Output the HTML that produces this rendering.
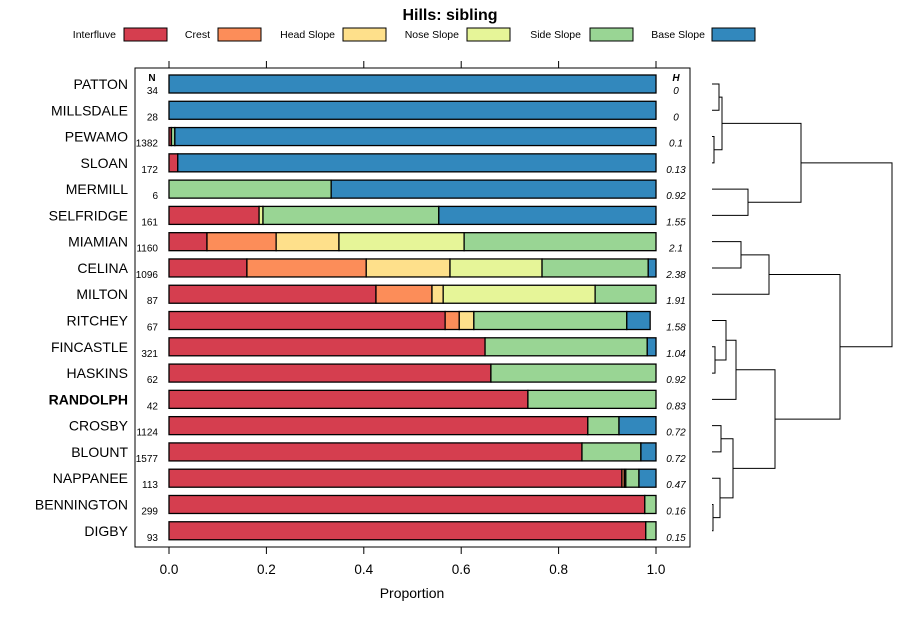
<!DOCTYPE html>
<html><head><meta charset="utf-8"><style>
body{margin:0;background:#fff}
svg{display:block;font-family:"Liberation Sans",sans-serif}
</style></head><body>
<svg id="chart" width="900" height="620" xmlns="http://www.w3.org/2000/svg">
<text x="450" y="20" text-anchor="middle" font-size="16" font-weight="bold">Hills: sibling</text>
<g id="legend"></g>
<rect x="135" y="68" width="555" height="479" fill="none" stroke="#000" stroke-width="1"/>
<g id="axes"></g>
<g id="bars"></g>
<g id="labels"></g>
<text x="152" y="81" text-anchor="middle" font-size="10" font-weight="bold">N</text>
<text x="676" y="81" text-anchor="middle" font-size="10" font-weight="bold" font-style="italic">H</text>
<text x="412" y="598" text-anchor="middle" font-size="14">Proportion</text>
<g id="dendro" stroke="#000" stroke-width="1" fill="none"></g>
</svg>
<script>
const classes = ["Interfluve","Crest","Head Slope","Nose Slope","Side Slope","Base Slope"];
const colors = ["#d53e4f","#fc8d59","#fee08b","#e6f598","#99d594","#3288bd"];
const series = ["PATTON","MILLSDALE","PEWAMO","SLOAN","MERMILL","SELFRIDGE","MIAMIAN","CELINA","MILTON","RITCHEY","FINCASTLE","HASKINS","RANDOLPH","CROSBY","BLOUNT","NAPPANEE","BENNINGTON","DIGBY"];
const nValues = [34,28,1382,172,6,161,1160,1096,87,67,321,62,42,1124,1577,113,299,93];
const hValues = ["0","0","0.1","0.13","0.92","1.55","2.1","2.38","1.91","1.58","1.04","0.92","0.83","0.72","0.72","0.47","0.16","0.15"];
const interfluve = [0,0,0.005,0.018,0,0.185,0.078,0.16,0.425,0.567,0.649,0.661,0.737,0.86,0.848,0.93,0.977,0.979];
const crest      = [0,0,0,0,0,0,0.142,0.245,0.115,0.029,0,0,0,0,0,0.005,0,0];
const headSlope  = [0,0,0,0,0,0,0.129,0.172,0.023,0.03,0,0,0,0,0,0.003,0,0];
const noseSlope  = [0,0,0,0,0,0.008,0.257,0.189,0.312,0,0,0,0,0,0,0,0,0];
const sideSlope  = [0,0,0.007,0,0.333,0.361,0.394,0.218,0.125,0.314,0.333,0.339,0.263,0.064,0.121,0.027,0.023,0.021];
const baseSlope  = [1,1,0.988,0.982,0.667,0.446,0,0.016,0,0.048,0.018,0,0,0.076,0.031,0.035,0,0];
const xTicks = [0,0.2,0.4,0.6,0.8,1.0];
const tickLabels = ["0.0","0.2","0.4","0.6","0.8","1.0"];
const NS="http://www.w3.org/2000/svg";
const X = v => 169 + v*487;
const Y = i => 84 + i*26.28;
function mk(tag, attrs, parent){const e=document.createElementNS(NS,tag);for(const k in attrs)e.setAttribute(k,attrs[k]);parent.appendChild(e);return e;}
const g=id=>document.getElementById(id);
const legX=[[116,124],[210,218],[335,343],[459,467],[581,590],[705,712]];
classes.forEach((c,i)=>{
  const t=mk('text',{x:legX[i][0],y:38,'text-anchor':'end','font-size':'10.5'},g('legend'));t.textContent=c;
  
  
  const r=mk('rect',{x:legX[i][1],y:28,width:43,height:13,fill:colors[i],stroke:'#000','stroke-width':1},g('legend'));
  
  
});
xTicks.forEach((v,i)=>{
  mk('line',{x1:X(v),x2:X(v),y1:61,y2:68,stroke:'#000'},g('axes'));
  mk('line',{x1:X(v),x2:X(v),y1:547,y2:554,stroke:'#000'},g('axes'));
  const t=mk('text',{x:X(v),y:574,'text-anchor':'middle','font-size':13.5},g('axes'));t.textContent=tickLabels[i];
  
  
});
const data=[interfluve,crest,headSlope,noseSlope,sideSlope,baseSlope];
series.forEach((s,i)=>{
  let acc=0;const y=Y(i);
  data.forEach((arr,k)=>{
    const v=arr[i]; if(v<=0) return;
    const r=mk('rect',{x:X(acc),y:y-9,width:X(acc+v)-X(acc),height:18,fill:colors[k],stroke:'#000','stroke-width':1.3},g('bars'));
    
    
    acc+=v;
  });
  const l=mk('text',{x:128,y:y+5,'text-anchor':'end','font-size':14,'font-weight':s==='RANDOLPH'?'bold':'normal'},g('labels'));l.textContent=s;
  
  
  const n=mk('text',{x:158,y:y+10,'text-anchor':'end','font-size':10},g('labels'));n.textContent=nValues[i];
  
  
  const h=mk('text',{x:676,y:y+10,'text-anchor':'middle','font-size':10,'font-style':'italic'},g('labels'));h.textContent=hValues[i];
  
  
});
const leafX=712;
function node(a,b,x){return {a,b,x,y:(a.y+b.y)/2};}
const L=i=>({x:leafX,y:Y(i)});
function draw(n){if(!n.a)return;draw(n.a);draw(n.b);
  const d=`M${n.a.x},${n.a.y}H${n.x}V${n.b.y}H${n.b.x}`;
  mk('path',{d},g('dendro'));}
const n1=node(L(0),L(1),719),n2=node(L(2),L(3),714),n3=node(n1,n2,722),n4=node(L(4),L(5),748),n5=node(n3,n4,801);
const n6=node(L(6),L(7),741),n7=node(n6,L(8),769);
const n8=node(L(10),L(11),715),n9=node(L(9),n8,726),n10=node(n9,L(12),736);
const n11=node(L(13),L(14),721),n12=node(L(16),L(17),713),n13=node(L(15),n12,720),n14=node(n11,n13,733);
const n15=node(n10,n14,775),n16=node(n7,n15,840),root=node(n5,n16,892);
draw(root);
</script>
</body></html>
